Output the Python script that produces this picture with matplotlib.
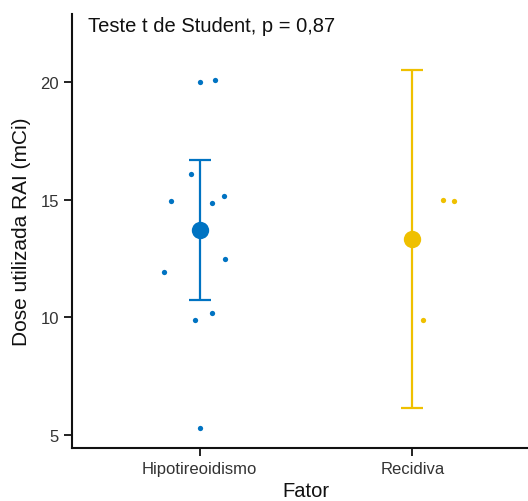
import matplotlib.pyplot as plt
import numpy as np

plt.rcParams['font.family'] = ['Liberation Sans', 'DejaVu Sans']

groups = ["Hipotireoidismo", "Recidiva"]
colors = ["#0073C2", "#EFC000"]

hipo_vals = [19.98, 20.08, 16.08, 14.94, 14.86, 15.16, 12.48, 11.94, 10.18, 9.88, 5.31]
hipo_jitter = [0.003, 0.073, -0.041, -0.133, 0.056, 0.114, 0.117, -0.166, 0.059, -0.023, 0.003]
recid_vals = [14.97, 14.94, 9.91]
recid_jitter = [0.144, 0.194, 0.050]

# mean and 95% CI
means = [13.70, 13.31]
ci_low = [10.75, 6.14]
ci_high = [16.67, 20.50]

label_txt = "Teste t de Student, p = 0,87"

W, H = 528, 502
fig = plt.figure(figsize=(W / 100, H / 100), dpi=100)
ax = fig.add_axes([72 / W, (H - 448.5) / H, (540 - 72) / W, (448.5 - 15) / H])

x = np.arange(1, len(groups) + 1)

for i, (vals, jit) in enumerate([(hipo_vals, hipo_jitter), (recid_vals, recid_jitter)]):
    ax.plot(x[i] + np.array(jit), vals, 'o', color=colors[i], ms=3.8,
            markeredgewidth=0, zorder=2)
    ax.errorbar(x[i], means[i],
                yerr=[[means[i] - ci_low[i]], [ci_high[i] - means[i]]],
                fmt='none', ecolor=colors[i], elinewidth=1.6,
                capsize=7.8, capthick=1.6, zorder=3)
    ax.plot(x[i], means[i], 'o', color=colors[i], ms=12.5,
            markeredgewidth=0, zorder=4)

ax.text(0.474, 22.16, label_txt, fontsize=14.5, ha='left', va='baseline',
        color='#111111')

ax.set_xlim(0.4, 2.6)
ax.set_ylim(4.48, 22.87)
ax.set_xticks(x)
ax.set_xticklabels(groups)
ax.set_yticks([5, 10, 15, 20])

for s in ['top', 'right']:
    ax.spines[s].set_visible(False)
for s in ['left', 'bottom']:
    ax.spines[s].set_linewidth(1.5)
    ax.spines[s].set_color('#111111')

ax.tick_params(axis='both', length=5.5, width=1.3, color='#111111',
               labelsize=12, labelcolor='#333333', pad=4)

ax.set_xlabel("Fator", fontsize=14.5, va='baseline', color='#111111')
ax.xaxis.set_label_coords(0.5, -(497 - 448.5) / 433.5)
ax.set_ylabel("Dose utilizada RAI (mCi)", fontsize=15, va='center', color='#111111')
ax.yaxis.set_label_coords((22 - 72) / 468, 0.5)

fig.savefig("out.png", dpi=100)
plt.close()
